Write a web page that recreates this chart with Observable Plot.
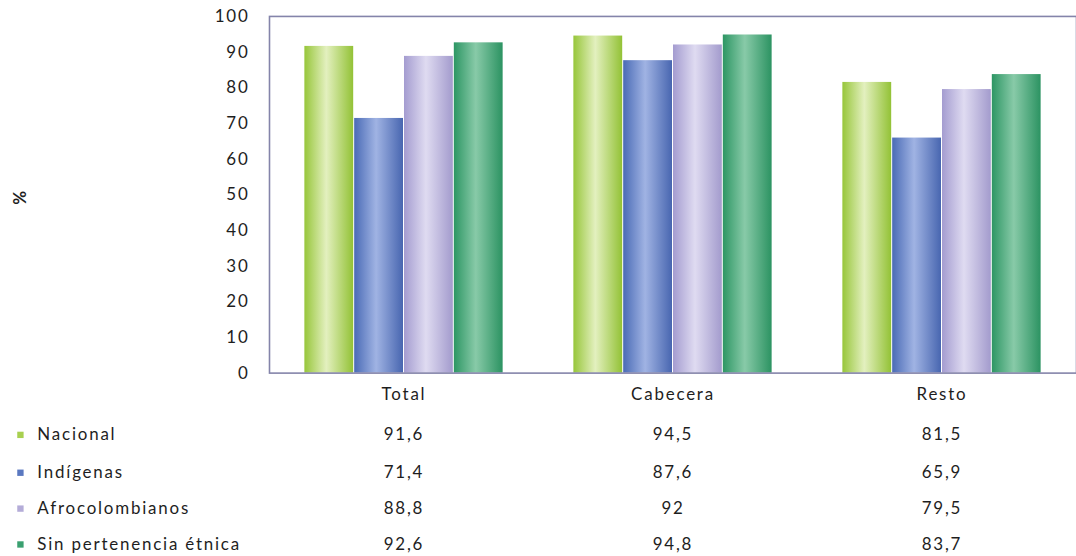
<!DOCTYPE html>
<html><head><meta charset="utf-8">
<script src="https://cdn.jsdelivr.net/npm/d3@7"></script>
<script src="https://cdn.jsdelivr.net/npm/@observablehq/plot@0.6"></script>
<style>
html,body{margin:0;padding:0;overflow:hidden;background:#fff;}
#chart{position:relative;width:1076px;height:556px;overflow:hidden;}
</style></head>
<body><div id="chart"></div>
<script>
const groups = ["Total", "Cabecera", "Resto"];
const series = ["Nacional", "Indígenas", "Afrocolombianos", "Sin pertenencia étnica"];
const nacional = [91.6, 94.5, 81.5];
const indigenas = [71.4, 87.6, 65.9];
const afro = [88.8, 92, 79.5];
const sinPertenencia = [92.6, 94.8, 83.7];
const yTicks = [0, 10, 20, 30, 40, 50, 60, 70, 80, 90, 100];

const values = [nacional, indigenas, afro, sinPertenencia];
const gradIds = ["gNac", "gInd", "gAfro", "gSin"];
const gradStops = [
  ["#97c63a", "#e3f0bf", "#93c236"],
  ["#4a6bb6", "#a0b3e3", "#4866b0"],
  ["#a49cd0", "#dfdbf1", "#a39bcd"],
  ["#2d9664", "#88caa8", "#2c9362"]
];
const swatch = ["#a8d050", "#5a78c0", "#b4acd8", "#3aa070"];
const fmt = v => String(v).replace(".", ",");
const font = "Lato, sans-serif";
const rowDy = [62, 100, 136, 172];

const marks = [];
values.forEach((vals, i) => {
  const rows = groups.map((g, j) => ({group: g, value: vals[j]}));
  marks.push(Plot.barY(rows, {
    x: "group", y: "value", fill: `url(#${gradIds[i]})`,
    insetLeft: 110.5, insetRight: 110.5, dx: (i - 1.5) * 50
  }));
});
marks.push(Plot.frame({stroke: "#8484aa", strokeWidth: 1.6}));
values.forEach((vals, i) => {
  const rows = groups.map((g, j) => ({group: g, value: vals[j]}));
  marks.push(Plot.text(rows, {
    x: "group", text: d => fmt(d.value), frameAnchor: "bottom",
    dy: rowDy[i], lineAnchor: "middle",
    fontSize: 17, fill: "#1e1e1e"
  }));
  marks.push(Plot.dot([series[i]], {
    frameAnchor: "bottom-left", dx: -250, dy: rowDy[i],
    symbol: "square", r: 3.6, fill: swatch[i]
  }));
  marks.push(Plot.text([series[i]], {
    text: d => d, frameAnchor: "bottom-left", dx: -233, dy: rowDy[i],
    textAnchor: "start", lineAnchor: "middle", fontSize: 17, fill: "#1e1e1e"
  }));
});
marks.push(Plot.text(["%"], {
  text: d => d, frameAnchor: "left", dx: -250, dy: 10, rotate: -90,
  fontSize: 17, fill: "#1e1e1e", fontWeight: "bold"
}));
marks.push(Plot.axisY({ticks: yTicks, tickSize: 0, tickPadding: 20, label: null, fontSize: 17, fill: "#1e1e1e"}));
marks.push(Plot.axisX({tickSize: 0, tickPadding: 15, label: null, fontSize: 17, fill: "#1e1e1e"}));

const plot = Plot.plot({
  width: 1080, height: 556,
  marginTop: 16, marginBottom: 182, marginLeft: 270, marginRight: 0,
  style: {fontFamily: font, fontSize: "17px", letterSpacing: "1.8px", color: "#1e1e1e", background: "#fff"},
  x: {domain: groups, padding: 0, axis: null},
  y: {domain: [0, 100], axis: null},
  marks
});

const ns = "http://www.w3.org/2000/svg";
const defs = document.createElementNS(ns, "defs");
gradIds.forEach((id, i) => {
  const lg = document.createElementNS(ns, "linearGradient");
  lg.setAttribute("id", id);
  lg.setAttribute("x1", "0"); lg.setAttribute("x2", "1");
  lg.setAttribute("y1", "0"); lg.setAttribute("y2", "0");
  [[0, 0], [0.45, 1], [1, 2]].forEach(([o, k]) => {
    const s = document.createElementNS(ns, "stop");
    s.setAttribute("offset", o);
    s.setAttribute("stop-color", gradStops[i][k]);
    lg.appendChild(s);
  });
  defs.appendChild(lg);
});
plot.insertBefore(defs, plot.firstChild);
document.getElementById("chart").appendChild(plot);
</script></body></html>
